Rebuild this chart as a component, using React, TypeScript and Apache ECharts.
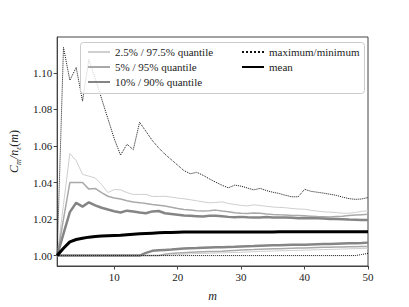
import React, { useEffect, useRef } from "react";
import * as echarts from "echarts";

const mValues = Array.from({ length: 50 }, (_, i) => i + 1);

const maxValues = [
  1.0, 1.114, 1.096, 1.103, 1.0846, 1.1075, 1.097, 1.086, 1.075, 1.064,
  1.055, 1.061, 1.058, 1.073, 1.068, 1.063, 1.059, 1.0555, 1.0525, 1.0495,
  1.0465, 1.0448, 1.0456, 1.044, 1.042, 1.0402, 1.0385, 1.0371, 1.0386, 1.038,
  1.037, 1.036, 1.0368, 1.0356, 1.0347, 1.034, 1.033, 1.0322, 1.0322, 1.0363,
  1.0352, 1.0347, 1.0342, 1.0336, 1.033, 1.032, 1.0312, 1.0308, 1.031, 1.0318,
];

const minValues = [
  1.0, 1.0, 1.0, 1.0, 1.0, 1.0, 1.0, 1.0, 1.0, 1.0,
  1.0, 1.0, 1.0, 1.0, 1.0, 1.0, 1.0, 1.0, 1.0, 1.0,
  1.0, 1.0, 1.0, 1.0, 1.0, 1.0, 1.0, 1.0, 1.0, 1.0,
  1.0, 1.0, 1.0, 1.0, 1.0, 1.0, 1.0, 1.0, 1.0, 1.0,
  1.0, 1.0, 1.0, 1.0, 1.0, 1.0, 1.0, 1.0, 1.0006, 1.0012,
];

const q975Values = [
  1.0, 1.028, 1.0559, 1.052, 1.0445, 1.0435, 1.0425, 1.039, 1.0345, 1.0362,
  1.036, 1.0345, 1.0335, 1.0335, 1.0335, 1.0324, 1.0324, 1.0325, 1.032, 1.0315,
  1.0311, 1.0306, 1.03, 1.0294, 1.0289, 1.0291, 1.0294, 1.0285, 1.028, 1.0275,
  1.0272, 1.0278, 1.0274, 1.027, 1.0266, 1.0264, 1.0262, 1.0258, 1.0255, 1.0254,
  1.0248, 1.0244, 1.024, 1.0238, 1.0236, 1.0232, 1.0232, 1.0236, 1.0242, 1.0246,
];

const q95Values = [
  1.0, 1.02, 1.04, 1.04, 1.04, 1.0364, 1.0368, 1.0345, 1.0325, 1.0315,
  1.031, 1.03, 1.0294, 1.029, 1.0285, 1.028, 1.0276, 1.0271, 1.0265, 1.0258,
  1.0253, 1.025, 1.0246, 1.0244, 1.0246, 1.0249, 1.0244, 1.024, 1.0235, 1.0232,
  1.023, 1.0233, 1.0232, 1.0228, 1.0225, 1.0223, 1.0222, 1.022, 1.022, 1.0218,
  1.0216, 1.0214, 1.0213, 1.0212, 1.0214, 1.0216, 1.022, 1.0222, 1.0224, 1.0226,
];

const q90Values = [
  1.0, 1.012, 1.0238, 1.0289, 1.0268, 1.0292, 1.0275, 1.0262, 1.0252, 1.0243,
  1.0236, 1.0246, 1.0242, 1.0236, 1.0232, 1.0242, 1.0244, 1.0232, 1.0228, 1.0224,
  1.022, 1.0218, 1.0216, 1.0214, 1.0218, 1.0218, 1.0215, 1.0212, 1.021, 1.0212,
  1.021, 1.0209, 1.0209, 1.0211, 1.0209, 1.0208, 1.0209, 1.0207, 1.0205, 1.0206,
  1.0204, 1.0205, 1.0203, 1.0201, 1.02, 1.0199, 1.0197, 1.0196, 1.0195, 1.0195,
];

const meanValues = [
  1.0, 1.004, 1.0075, 1.0088, 1.0095, 1.0101, 1.0105, 1.0107, 1.0109, 1.011,
  1.0111, 1.0114, 1.0117, 1.0119, 1.0121, 1.0123, 1.0125, 1.0126, 1.0127, 1.0128,
  1.0129, 1.0129, 1.0129, 1.0129, 1.0129, 1.0129, 1.0129, 1.0129, 1.0129, 1.0129,
  1.0129, 1.0129, 1.0129, 1.0129, 1.0129, 1.013, 1.013, 1.013, 1.013, 1.013,
  1.013, 1.013, 1.013, 1.013, 1.013, 1.013, 1.013, 1.013, 1.013, 1.013,
];

const q10Values = [
  1.0, 1.0, 1.0, 1.0, 1.0, 1.0, 1.0, 1.0, 1.0, 1.0,
  1.0, 1.0, 1.0, 1.0, 1.0015, 1.0026, 1.0029, 1.0031, 1.0033, 1.0036,
  1.0039, 1.004, 1.0041, 1.0043, 1.0044, 1.0045, 1.0046, 1.0047, 1.0048, 1.005,
  1.0051, 1.0052, 1.0054, 1.0055, 1.0056, 1.0057, 1.0058, 1.0059, 1.006, 1.006,
  1.0061, 1.0062, 1.0063, 1.0064, 1.0065, 1.0066, 1.0067, 1.0068, 1.0069, 1.0071,
];

const q05Values = [
  1.0, 1.0, 1.0, 1.0, 1.0, 1.0, 1.0, 1.0, 1.0, 1.0,
  1.0, 1.0, 1.0, 1.0, 1.0, 1.0, 1.0, 1.0008, 1.0012, 1.0014,
  1.0016, 1.0018, 1.002, 1.0021, 1.0022, 1.0023, 1.0024, 1.0026, 1.0028, 1.003,
  1.0032, 1.0033, 1.0035, 1.0036, 1.0037, 1.0038, 1.0039, 1.004, 1.0041, 1.0042,
  1.0043, 1.0044, 1.0045, 1.0046, 1.0047, 1.0047, 1.0048, 1.0049, 1.005, 1.005,
];

const q025Values = [
  1.0, 1.0, 1.0, 1.0, 1.0, 1.0, 1.0, 1.0, 1.0, 1.0,
  1.0, 1.0, 1.0, 1.0, 1.0, 1.0, 1.0, 1.0, 1.0003, 1.0006,
  1.0008, 1.001, 1.0011, 1.0012, 1.0013, 1.0014, 1.0015, 1.0016, 1.0017, 1.0018,
  1.002, 1.0021, 1.0023, 1.0024, 1.0025, 1.0026, 1.0027, 1.0028, 1.0029, 1.003,
  1.0031, 1.0032, 1.0033, 1.0034, 1.0035, 1.0036, 1.0037, 1.0038, 1.0039, 1.004,
];

const xTicks = [10, 20, 30, 40, 50];
const yTicks = [1.0, 1.02, 1.04, 1.06, 1.08, 1.1];

const NAME_Q25 = "2.5% / 97.5% quantile";
const NAME_Q5 = "5% / 95% quantile";
const NAME_Q10 = "10% / 90% quantile";
const NAME_MAX = "maximum/minimum";
const NAME_MEAN = "mean";

const FONT = "Liberation Serif";

function pairs(vals: number[]) {
  return vals.map((v, i) => [mValues[i], v]);
}

function lineSeries(name: string, vals: number[], color: string, width: number, type: string = "solid", z = 2) {
  return {
    type: "line",
    name,
    data: pairs(vals),
    symbol: "none",
    showSymbol: false,
    lineStyle: { color, width, type },
    itemStyle: { color },
    z,
  };
}

export default function App() {
  const ref = useRef<HTMLDivElement>(null);
  useEffect(() => {
    if (!ref.current) return;
    const chart = echarts.init(ref.current, null, { renderer: "svg" });
    const legendCommon = {
      orient: "vertical",
      top: 41,
      itemWidth: 22,
      itemHeight: 10,
      itemGap: 3,
      itemStyle: { opacity: 0 },
      textStyle: { fontSize: 11, fontFamily: FONT, color: "#222", lineHeight: 12 },
      z: 10,
    };
    chart.setOption({
      animation: false,
      grid: {
        left: 51,
        right: 41,
        top: 37,
        bottom: 35,
        show: true,
        borderColor: "#444",
        borderWidth: 1,
        backgroundColor: "transparent",
      },
      xAxis: {
        type: "value",
        min: 1,
        max: 50,
        axisLine: { show: true, onZero: false, lineStyle: { color: "#444", width: 1 } },
        axisTick: { show: true, customValues: xTicks, length: 3.5, lineStyle: { color: "#444" } },
        axisLabel: { customValues: xTicks, color: "#222", fontSize: 11, fontFamily: FONT, margin: 5 },
        splitLine: { show: false },
        name: "m",
        nameLocation: "middle",
        nameGap: 24,
        nameTextStyle: { fontStyle: "italic", fontSize: 12, fontFamily: FONT, color: "#222" },
      },
      yAxis: {
        type: "value",
        min: 0.9943,
        max: 1.1197,
        axisLine: { show: true, onZero: false, lineStyle: { color: "#444", width: 1 } },
        axisTick: { show: true, customValues: yTicks, length: 3.5, lineStyle: { color: "#444" } },
        axisLabel: {
          customValues: yTicks,
          color: "#222",
          fontSize: 11,
          fontFamily: FONT,
          margin: 5,
          formatter: (v: number) => v.toFixed(2),
        },
        splitLine: { show: false },
        name: "{a|C}{b|m}{a|/n}{b|ε}{r|(}{a|m}{r|)}",
        nameLocation: "middle",
        nameRotate: 90,
        nameGap: 33,
        nameTextStyle: {
          rich: {
            a: { fontSize: 12, fontStyle: "italic", fontFamily: FONT, color: "#222", lineHeight: 16 },
            r: { fontSize: 12, fontFamily: FONT, color: "#222", lineHeight: 16 },
            b: { fontSize: 8, fontStyle: "italic", fontFamily: FONT, color: "#222", lineHeight: 8, verticalAlign: "bottom" },
          },
        },
      },
      legend: [
        { ...legendCommon, data: [NAME_Q25, NAME_Q5, NAME_Q10], left: 82 },
        { ...legendCommon, data: [NAME_MAX, NAME_MEAN], left: 236 },
      ],
      graphic: [
        {
          type: "rect",
          left: 80,
          top: 42,
          z: 5,
          shape: { width: 284, height: 51, r: 3 },
          style: { fill: "rgba(255,255,255,0.8)", stroke: "#cccccc", lineWidth: 1 },
        },
      ],
      series: [
        lineSeries(NAME_Q25, q975Values, "#cfcfcf", 1),
        lineSeries(NAME_Q25, q025Values, "#cfcfcf", 1),
        lineSeries(NAME_Q5, q95Values, "#a9a9a9", 1.5),
        lineSeries(NAME_Q5, q05Values, "#a9a9a9", 1.5),
        lineSeries(NAME_Q10, q90Values, "#858585", 2.5),
        lineSeries(NAME_Q10, q10Values, "#858585", 2.5),
        lineSeries(NAME_MAX, maxValues, "#111", 1, "dotted", 3),
        lineSeries(NAME_MAX, minValues, "#111", 1, "dotted", 3),
        lineSeries(NAME_MEAN, meanValues, "#000", 3, "solid", 4),
      ],
    });
    return () => chart.dispose();
  }, []);
  return <div ref={ref} style={{ width: 409, height: 307, position: "absolute", left: 0, top: 0 }} />;
}
